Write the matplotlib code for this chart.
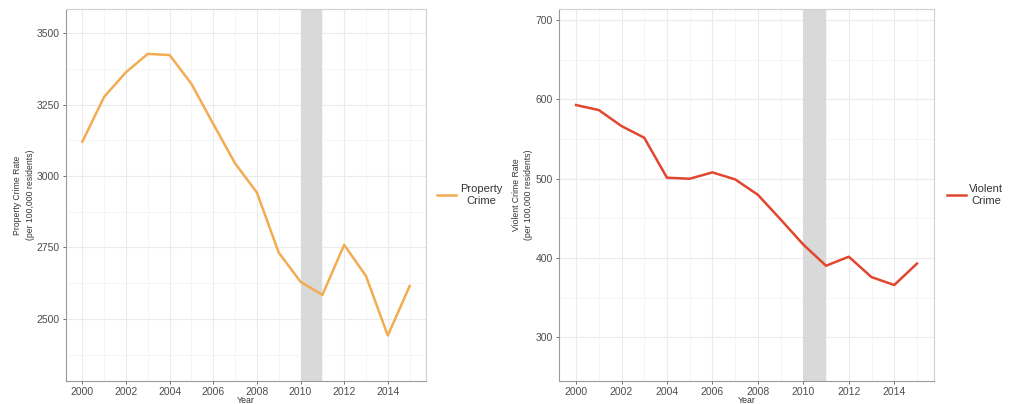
import matplotlib
matplotlib.use("Agg")
import matplotlib.pyplot as plt
from matplotlib.lines import Line2D

plt.rcParams['font.family'] = ['Liberation Sans', 'DejaVu Sans']

years = list(range(2000, 2016))
property_rate = [3120, 3277, 3363, 3427, 3423, 3322, 3182, 3044, 2942,
                 2732, 2630, 2584, 2759, 2650, 2442, 2615]
violent_rate = [592.9, 586.6, 566.4, 551.7, 501.3, 500.0, 508.0, 499.2, 479.8,
                448.7, 417.0, 390.3, 401.7, 376.0, 366.0, 393.0]
recession = (2010, 2011)

x_ticks = [2000, 2002, 2004, 2006, 2008, 2010, 2012, 2014]
prop_yticks = [2500, 2750, 3000, 3250, 3500]
viol_yticks = [300, 400, 500, 600, 700]

prop_color = '#F2AC52'
viol_color = '#E2462F'

W, H = 1019, 404
fig = plt.figure(figsize=(W / 100, H / 100), dpi=100)

def make_panel(rect, y, color, ylim, yticks, minor, ylabel, legend_label, leg_x):
    ax = fig.add_axes(rect)
    ax.set_axisbelow(True)
    ax.set_xlim(1999.25, 2015.75)
    ax.set_ylim(*ylim)
    ax.set_xticks(x_ticks)
    ax.set_xticks([2001, 2003, 2005, 2007, 2009, 2011, 2013, 2015], minor=True)
    ax.set_yticks(yticks)
    ax.set_yticks(minor, minor=True)
    ax.grid(which='major', color='#ebebeb', linewidth=0.8)
    ax.grid(which='minor', color='#f4f4f4', linewidth=0.6)
    ax.axvspan(*recession, color='#d9d9d9', zorder=1, linewidth=0)
    ax.plot(years, y, color=color, linewidth=1.8, zorder=3)
    for s in ['top', 'right']:
        ax.spines[s].set_color('#d0d0d0')
        ax.spines[s].set_linewidth(0.8)
    for s in ['left', 'bottom']:
        ax.spines[s].set_color('#9a9a9a')
        ax.spines[s].set_linewidth(0.8)
    ax.tick_params(which='major', length=2.5, width=0.6, color='#555555',
                   labelsize=7.5, labelcolor='#4d4d4d', pad=2)
    ax.tick_params(axis='x', which='major', pad=1.5)
    ax.tick_params(which='minor', length=0)
    ax.set_xlabel('Year', fontsize=6.3, color='#333333')
    ax.xaxis.set_label_coords(0.5, -0.040)
    ax.set_ylabel(ylabel, fontsize=6.2, color='#333333', labelpad=1.5, linespacing=1.55)
    handle = Line2D([0], [0], color=color, linewidth=1.8)
    leg = ax.legend([handle], [legend_label], loc='center left', bbox_to_anchor=(leg_x, 0.5),
                    frameon=False, fontsize=8, handlelength=1.7, handletextpad=0.35,
                    labelcolor='#333333')
    for t in leg.get_texts():
        t.set_ha('center')
        t.set_linespacing(1.2)
    return ax

ax1 = make_panel([66 / W, (H - 381) / H, (426 - 66) / W, (381 - 9) / H],
                 property_rate, prop_color, (2283, 3584), prop_yticks,
                 [2375, 2625, 2875, 3125, 3375],
                 'Property Crime Rate\n(per 100,000 residents)', 'Property\nCrime', 1.004)
ax2 = make_panel([559 / W, (H - 381) / H, (934 - 559) / W, (381 - 9) / H],
                 violent_rate, viol_color, (245, 714), viol_yticks,
                 [350, 450, 550, 650],
                 'Violent Crime Rate\n(per 100,000 residents)', 'Violent\nCrime', 1.007)

fig.savefig('out.png', dpi=100)
